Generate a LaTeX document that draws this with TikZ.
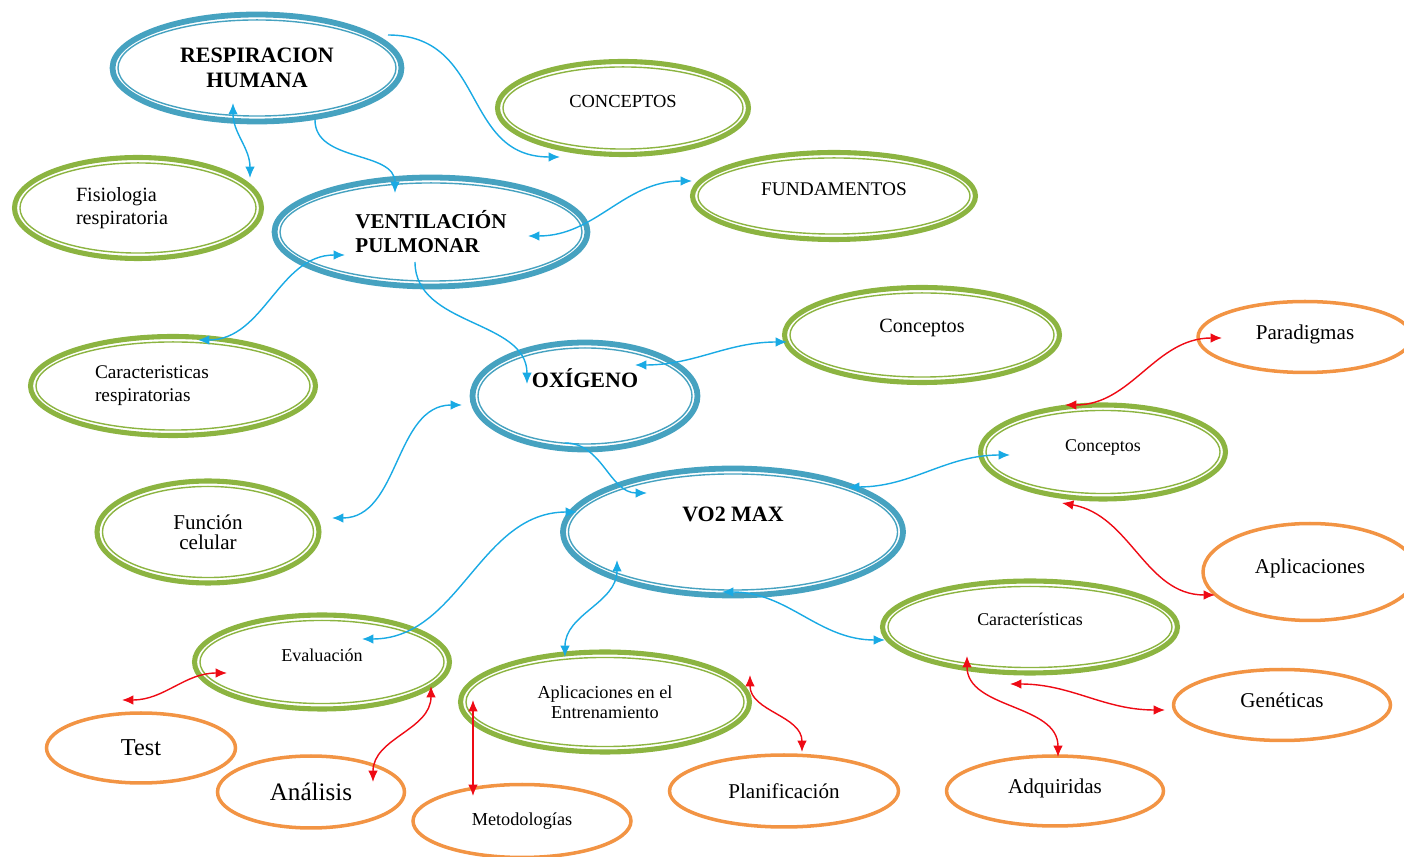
\documentclass[tikz,border=0pt]{standalone}
\usepackage{fontspec}
\setmainfont{Liberation Serif}
\usepackage{xcolor}
\usepackage{tikz}
\usetikzlibrary{shapes.geometric, arrows.meta, calc}

\definecolor{ringblue}{RGB}{70,162,192}
\definecolor{ringgreen}{RGB}{140,180,65}
\definecolor{ringorange}{RGB}{242,148,68}
\definecolor{linkblue}{RGB}{25,170,228}
\definecolor{linkred}{RGB}{238,10,20}

\begin{document}
\begin{tikzpicture}[
    x=0.02cm, y=0.02cm,
    ring/.style={ellipse, draw=#1, line width=2.9pt, text=black, path picture={
        \draw[#1, line width=0.8pt] let \p1=(path picture bounding box.north east), \p2=(path picture bounding box.center)
            in (\p2) ellipse [x radius=\x1-\x2-3.1pt, y radius=\y1-\y2-3.1pt];}},
    main/.style={ring=ringblue, line width=3.3pt, align=center, font=\bfseries\fontsize{12.5}{14.5}\selectfont},
    sub/.style={ring=ringgreen, align=center, font=\fontsize{11}{13}\selectfont},
    leaf/.style={ellipse, draw=ringorange, line width=2pt, text=black, font=\fontsize{12}{14}\selectfont},
    link/.style={draw=linkblue, line width=0.8pt, -{Latex[length=6.5pt, width=5.5pt]}},
    bilink/.style={link, {Latex[length=6.5pt, width=5.5pt]}-{Latex[length=6.5pt, width=5.5pt]}},
    redlink/.style={bilink, draw=linkred}
]

\useasboundingbox (0,0) rectangle (1404,-857);

\node [main, minimum width=5.78cm, minimum height=2.14cm] (resp) at (257,-68) {RESPIRACION\\HUMANA};
\node [sub, minimum width=5.02cm, minimum height=1.86cm, text depth=8pt, font=\fontsize{10.5}{12}\selectfont] (conc1) at (623,-108) {CONCEPTOS};
\node [sub, minimum width=4.94cm, minimum height=2.02cm, text width=2.48cm, align=left, font=\fontsize{11.5}{13}\selectfont] (fisio) at (138,-208) {Fisiologia\\respiratoria};
\node [main, minimum width=6.26cm, minimum height=2.18cm, align=left, font=\bfseries\fontsize{12}{13.6}\selectfont] (vent) at (431,-232) {VENTILACIÓN\\PULMONAR};
\node [sub, minimum width=5.66cm, minimum height=1.74cm, text depth=8pt] (fund) at (834,-196) {FUNDAMENTOS};
\node [sub, minimum width=5.7cm, minimum height=1.98cm, text width=3.12cm, align=left] (carres) at (173,-386) {Caracteristicas\\respiratorias};
\node [sub, minimum width=5.5cm, minimum height=1.9cm, text depth=10pt, font=\fontsize{11.5}{13}\selectfont] (conc2) at (922,-335) {Conceptos};
\node [main, minimum width=4.5cm, minimum height=2.14cm, text depth=20pt] (oxi) at (585,-396) {OXÍGENO};
\node [leaf, minimum width=4.28cm, minimum height=1.42cm, text depth=6pt] (parad) at (1305,-337) {Paradigmas};
\node [sub, minimum width=4.9cm, minimum height=1.88cm, text depth=7pt, font=\fontsize{10.2}{12}\selectfont] (conc3) at (1103,-452) {Conceptos};
\node [sub, minimum width=4.44cm, minimum height=2.04cm, font=\fontsize{12}{11.5}\selectfont] (func) at (208,-532) {Función\\celular};
\node [main, minimum width=6.8cm, minimum height=2.54cm, text depth=20pt] (vo2) at (733,-532) {VO2 MAX};
\node [leaf, minimum width=4.28cm, minimum height=1.94cm, text depth=7pt] (aplic) at (1310,-572) {Aplicaciones};
\node [sub, minimum width=5.9cm, minimum height=1.84cm, text depth=9pt, font=\fontsize{10.2}{12}\selectfont] (caract) at (1030,-627) {Características};
\node [sub, minimum width=5.1cm, minimum height=1.88cm, text depth=8pt, font=\fontsize{10.3}{12}\selectfont] (eval) at (322,-662) {Evaluación};
\node [sub, minimum width=5.78cm, minimum height=2.0cm, font=\fontsize{10.4}{11.5}\selectfont] (aplent) at (605,-702) {Aplicaciones en el\\Entrenamiento};
\node [leaf, minimum width=4.34cm, minimum height=1.42cm, text depth=5pt] (genet) at (1282,-705) {Genéticas};
\node [leaf, minimum width=3.78cm, minimum height=1.4cm, font=\fontsize{13.8}{15}\selectfont] (test) at (141,-748) {Test};
\node [leaf, minimum width=3.74cm, minimum height=1.44cm, font=\fontsize{14.3}{16}\selectfont] (anal) at (311,-792) {Análisis};
\node [leaf, minimum width=4.36cm, minimum height=1.46cm, font=\fontsize{10.4}{12}\selectfont] (metod) at (522,-821) {Metodologías};
\node [leaf, minimum width=4.58cm, minimum height=1.44cm] (planif) at (784,-791) {Planificación};
\node [leaf, minimum width=4.34cm, minimum height=1.4cm, text depth=5pt] (adq) at (1055,-791) {Adquiridas};

\path [link] ([shift={(131,33)}]resp.center) to[out=0, in=180, looseness=1.2] ([shift={(-63,-49)}]conc1.center);
\path [bilink] ([shift={(-24,-35)}]resp.center) to[out=-90, in=90] ([shift={(112,30)}]fisio.center);
\path [link] ([shift={(58,-52)}]resp.center) to[out=-90, in=90] ([shift={(-36,39)}]vent.center);
\path [bilink] ([shift={(97,-4)}]vent.center) to[out=0, in=180] ([shift={(-142,15)}]fund.center);
\path [bilink] ([shift={(-86,-23)}]vent.center) to[out=180, in=0] ([shift={(25,46)}]carres.center);
\path [link] ([shift={(-16,-30)}]vent.center) to[out=-90, in=90] ([shift={(-58,12)}]oxi.center);
\path [bilink] ([shift={(50,31)}]oxi.center) to[out=0, in=180] ([shift={(-135,-7)}]conc2.center);
\path [bilink] ([shift={(-123,-9)}]oxi.center) to[out=180, in=0] ([shift={(124,14)}]func.center);
\path [link] ([shift={(-20,-47)}]oxi.center) to[out=0, in=180] ([shift={(-86,39)}]vo2.center);
\path [bilink] ([shift={(115,45)}]vo2.center) to[out=0, in=180] ([shift={(-93,-3)}]conc3.center);
\path [bilink] ([shift={(-156,20)}]vo2.center) to[out=180, in=0] ([shift={(40,23)}]eval.center);
\path [bilink] ([shift={(-116,-28)}]vo2.center) to[out=-90, in=90] ([shift={(-40,45)}]aplent.center);
\path [bilink] ([shift={(-11,-60)}]vo2.center) to[out=0, in=180] ([shift={(-145,-13)}]caract.center);

\path [redlink] ([shift={(-38,47)}]conc3.center) to[out=0, in=180] ([shift={(-83,-1)}]parad.center);
\path [redlink] ([shift={(-41,-51)}]conc3.center) to[out=-10, in=180] ([shift={(-95,-23)}]aplic.center);
\path [redlink] ([shift={(-20,-57)}]caract.center) to[out=0, in=180] ([shift={(-117,-5)}]genet.center);
\path [redlink] ([shift={(-63,-29)}]caract.center) to[out=-90, in=90] ([shift={(3,34)}]adq.center);
\path [redlink] ([shift={(-95,-11)}]eval.center) to[out=180, in=0] ([shift={(-19,48)}]test.center);
\path [redlink] ([shift={(109,-24)}]eval.center) to[out=-90, in=90] ([shift={(62,10)}]anal.center);
\path [redlink] ([shift={(-132,2)}]aplent.center) -- ([shift={(-49,25)}]metod.center);
\path [redlink] ([shift={(145,27)}]aplent.center) to[out=-90, in=90] ([shift={(18,39)}]planif.center);

\end{tikzpicture}
\end{document}
